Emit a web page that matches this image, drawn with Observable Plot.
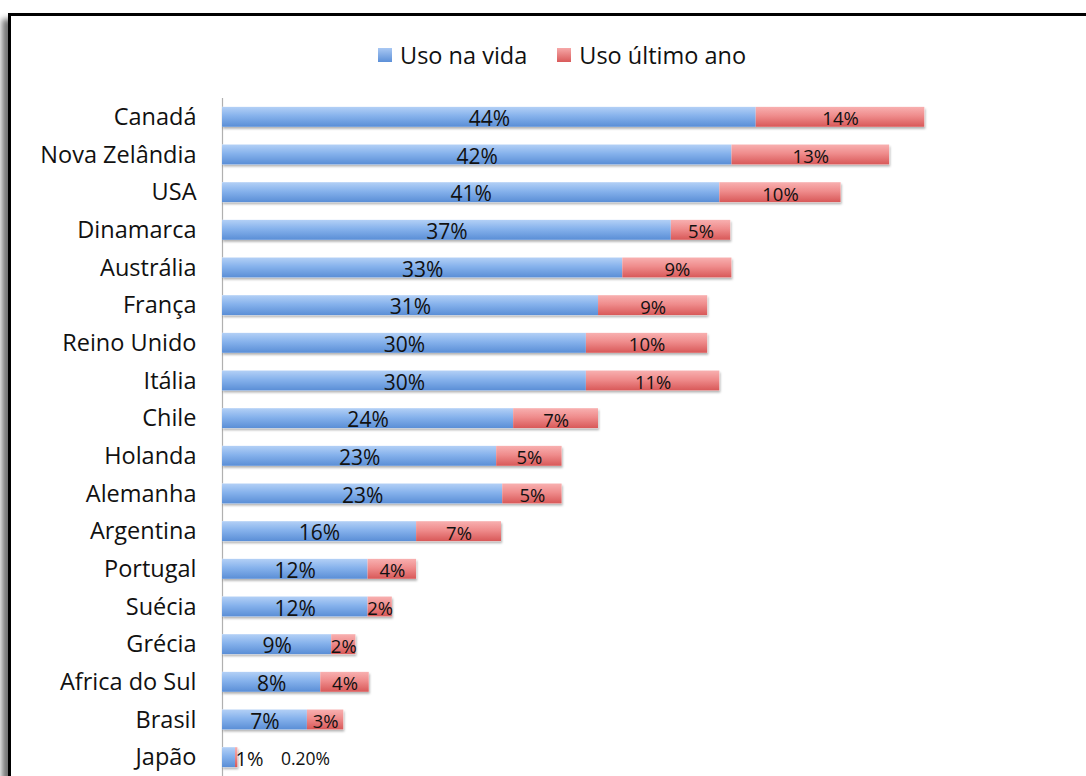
<!DOCTYPE html>
<html>
<head>
<meta charset="utf-8">
<script src="https://cdn.jsdelivr.net/npm/d3@7"></script>
<script src="https://cdn.jsdelivr.net/npm/@observablehq/plot@0.6"></script>
<style>
  html, body { margin: 0; padding: 0; background: #fff; overflow: hidden; }
  body { width: 1086px; height: 776px; position: relative; font-family: "Open Sans", "Noto Sans", sans-serif; }
  #frame { position: absolute; left: 8px; top: 13px; width: 1200px; height: 900px;
           border-top: 3px solid #000; border-left: 3px solid #000;
           box-shadow: -6px 6px 6px rgba(0,0,0,0.55); background: #fff; }
  #legend { position: absolute; top: 39px; left: 378px; display: flex;
            gap: 30px; font-size: 23.5px; color: #111; white-space: nowrap; }
  #legend span { display: inline-flex; align-items: center; }
  #legend i { display: inline-block; width: 14px; height: 14px; margin-right: 8px; }
  #chart { position: absolute; left: 0; top: 0; }
</style>
</head>
<body>
<div id="frame"></div>
<div id="legend"></div>
<div id="chart"></div>
<script>
const countries = ["Canadá","Nova Zelândia","USA","Dinamarca","Austrália","França","Reino Unido","Itália","Chile","Holanda","Alemanha","Argentina","Portugal","Suécia","Grécia","Africa do Sul","Brasil","Japão"];
const usoNaVida = [44,42,41,37,33,31,30,30,24,22.6,23.1,16,12,12,9,8.1,7,1.07];
const usoUltimoAno = [13.9,13,10,4.9,9,9,10,11,7,5.4,4.9,7,4,2,2,4,3,0.2];
const labelsVida = ["44%","42%","41%","37%","33%","31%","30%","30%","24%","23%","23%","16%","12%","12%","9%","8%","7%","1%"];
const labelsAno = ["14%","13%","10%","5%","9%","9%","10%","11%","7%","5%","5%","7%","4%","2%","2%","4%","3%","0.20%"];
const seriesNames = ["Uso na vida","Uso último ano"];

const rows = countries.map((c, i) => ({
  country: c, vida: usoNaVida[i], ano: usoUltimoAno[i],
  lv: labelsVida[i], la: labelsAno[i], small: usoNaVida[i] < 3
}));

// legend
const leg = document.getElementById("legend");
seriesNames.forEach((n, i) => {
  const s = document.createElement("span");
  const grad = i === 0 ? "linear-gradient(#a9c8f3,#5c90d8)" : "linear-gradient(#f6a8a8,#d95a5a)";
  s.innerHTML = `<i style="background:${grad}"></i>${n}`;
  leg.appendChild(s);
});

const defs = () => {
  const ns = "http://www.w3.org/2000/svg";
  const d = document.createElementNS(ns, "defs");
  const mk = (id, stops) => {
    const g = document.createElementNS(ns, "linearGradient");
    g.setAttribute("id", id); g.setAttribute("x1", 0); g.setAttribute("y1", 0); g.setAttribute("x2", 0); g.setAttribute("y2", 1);
    stops.forEach(([o, c]) => { const s = document.createElementNS(ns, "stop"); s.setAttribute("offset", o); s.setAttribute("stop-color", c); g.appendChild(s); });
    d.appendChild(g);
  };
  mk("gBlue", [[0, "#b3d0f6"], [0.45, "#86b2ec"], [1, "#5a8ed6"]]);
  mk("gRed", [[0, "#f8b0b0"], [0.45, "#ef8c8c"], [1, "#d85858"]]);
  const f = document.createElementNS(ns, "filter");
  f.setAttribute("id", "shadow"); f.setAttribute("x", "-5%"); f.setAttribute("y", "-30%"); f.setAttribute("width", "110%"); f.setAttribute("height", "170%");
  f.innerHTML = '<feDropShadow dx="1" dy="2" stdDeviation="1.2" flood-color="#000" flood-opacity="0.3"/>';
  d.appendChild(f);
  return d;
};

const pxPerPct = 12.13;
const chart = Plot.plot({
  width: 1086,
  height: 776,
  marginTop: 98,
  marginBottom: 0,
  marginLeft: 222,
  marginRight: 1086 - 222 - 70 * pxPerPct,
  style: { fontFamily: "'Open Sans', 'Noto Sans', sans-serif", background: "transparent", overflow: "visible" },
  x: { domain: [0, 70], axis: null },
  y: { domain: countries, paddingInner: 0.47, paddingOuter: 0.235, round: false, label: null },
  marks: [
    defs,
    Plot.ruleX([0], { stroke: "#b0b0b0", strokeWidth: 1.2 }),
    Plot.barX(rows, { y: "country", x1: 0, x2: d => d.vida + d.ano, fill: "#fff", className: "shadowbars" }),
    Plot.barX(rows, { y: "country", x1: 0, x2: "vida", fill: "url(#gBlue)" }),
    Plot.barX(rows, { y: "country", x1: "vida", x2: d => d.vida + d.ano, fill: "url(#gRed)" }),
    Plot.text(rows.filter(d => !d.small), { y: "country", x: d => d.vida / 2, text: "lv", fontSize: 21, fill: "#111", dy: 2 }),
    Plot.text(rows.filter(d => !d.small), { y: "country", x: d => d.vida + d.ano / 2, text: "la", fontSize: 18.5, fill: "#111", dy: 2 }),
    Plot.text(rows.filter(d => d.small), { y: "country", x: d => d.vida, text: "lv", fontSize: 20, fill: "#111", textAnchor: "start", dx: 0, dy: 2 }),
    Plot.text(rows.filter(d => d.small), { y: "country", x: d => d.vida + d.ano, text: "la", fontSize: 17.5, fill: "#111", textAnchor: "start", dx: 43, dy: 2 }),
    Plot.axisY({ tickSize: 0, tickPadding: 26, fontSize: 23.5, fill: "#111", label: null })
  ]
});
chart.querySelectorAll(".shadowbars").forEach(g => g.setAttribute("filter", "url(#shadow)"));
document.getElementById("chart").appendChild(chart);
</script>
</body>
</html>
